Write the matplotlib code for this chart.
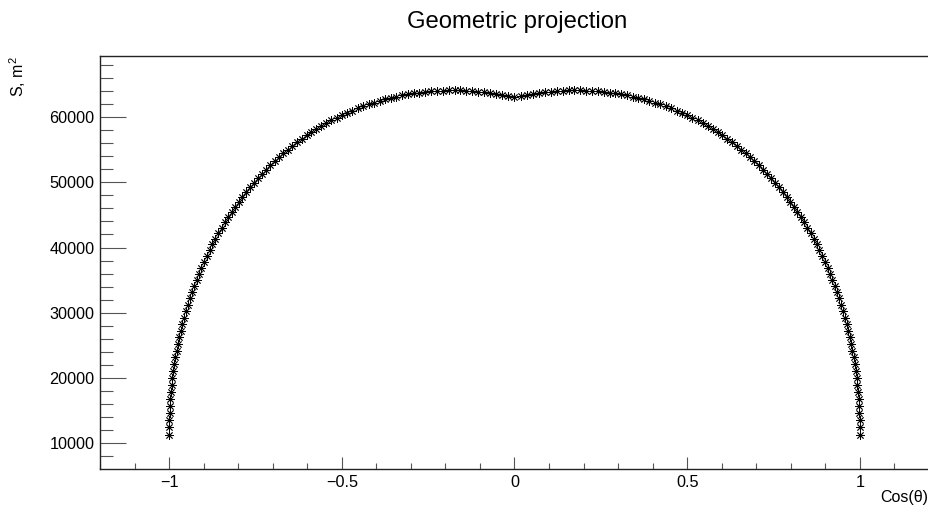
import matplotlib
matplotlib.use("Agg")
import matplotlib.pyplot as plt
from matplotlib.ticker import MultipleLocator

plt.rcParams['font.family'] = ['Liberation Sans', 'DejaVu Sans']
plt.rcParams['mathtext.fontset'] = 'custom'
plt.rcParams['mathtext.rm'] = 'Liberation Sans'
plt.rcParams['mathtext.it'] = 'Liberation Sans:italic'
plt.rcParams['mathtext.default'] = 'regular'

title = "Geometric projection"
xlabel = "Cos(θ)"
ylabel = "S, m$^{2}$"

cos_theta = [
    -1.0000, -0.9998, -0.9994, -0.9986, -0.9976, -0.9962, -0.9945, -0.9925, -0.9903, -0.9877,
    -0.9848, -0.9816, -0.9781, -0.9744, -0.9703, -0.9659, -0.9613, -0.9563, -0.9511, -0.9455,
    -0.9397, -0.9336, -0.9272, -0.9205, -0.9135, -0.9063, -0.8988, -0.8910, -0.8829, -0.8746,
    -0.8660, -0.8572, -0.8480, -0.8387, -0.8290, -0.8192, -0.8090, -0.7986, -0.7880, -0.7771,
    -0.7660, -0.7547, -0.7431, -0.7314, -0.7193, -0.7071, -0.6947, -0.6820, -0.6691, -0.6561,
    -0.6428, -0.6293, -0.6157, -0.6018, -0.5878, -0.5736, -0.5592, -0.5446, -0.5299, -0.5150,
    -0.5000, -0.4848, -0.4695, -0.4540, -0.4384, -0.4226, -0.4067, -0.3907, -0.3746, -0.3584,
    -0.3420, -0.3256, -0.3090, -0.2924, -0.2756, -0.2588, -0.2419, -0.2250, -0.2079, -0.1908,
    -0.1736, -0.1564, -0.1392, -0.1219, -0.1045, -0.0872, -0.0698, -0.0523, -0.0349, -0.0175,
    0.0000,
    0.0175, 0.0349, 0.0523, 0.0698, 0.0872, 0.1045, 0.1219, 0.1392, 0.1564, 0.1736,
    0.1908, 0.2079, 0.2250, 0.2419, 0.2588, 0.2756, 0.2924, 0.3090, 0.3256, 0.3420,
    0.3584, 0.3746, 0.3907, 0.4067, 0.4226, 0.4384, 0.4540, 0.4695, 0.4848, 0.5000,
    0.5150, 0.5299, 0.5446, 0.5592, 0.5736, 0.5878, 0.6018, 0.6157, 0.6293, 0.6428,
    0.6561, 0.6691, 0.6820, 0.6947, 0.7071, 0.7193, 0.7314, 0.7431, 0.7547, 0.7660,
    0.7771, 0.7880, 0.7986, 0.8090, 0.8192, 0.8290, 0.8387, 0.8480, 0.8572, 0.8660,
    0.8746, 0.8829, 0.8910, 0.8988, 0.9063, 0.9135, 0.9205, 0.9272, 0.9336, 0.9397,
    0.9455, 0.9511, 0.9563, 0.9613, 0.9659, 0.9703, 0.9744, 0.9781, 0.9816, 0.9848,
    0.9877, 0.9903, 0.9925, 0.9945, 0.9962, 0.9976, 0.9986, 0.9994, 0.9998, 1.0000,
]

area = [
    11300, 12402, 13495, 14584, 15677, 16759, 17832, 18907, 19974, 21030,
    22082, 23131, 24171, 25209, 26228, 27245, 28253, 29256, 30245, 31229,
    32199, 33165, 34114, 35055, 35986, 36907, 37819, 38715, 39602, 40474,
    41336, 42183, 43019, 43841, 44654, 45451, 46232, 46998, 47755, 48490,
    49217, 49928, 50617, 51299, 51964, 52608, 53238, 53858, 54451, 55036,
    55599, 56146, 56680, 57192, 57690, 58174, 58629, 59076, 59497, 59909,
    60295, 60665, 61016, 61352, 61668, 61963, 62238, 62499, 62739, 62960,
    63160, 63340, 63506, 63647, 63772, 63872, 63959, 64028, 64067, 64095,
    64103, 64091, 64061, 64004, 63934, 63845, 63738, 63603, 63456, 63285,
    63100,
    63285, 63456, 63603, 63738, 63845, 63934, 64004, 64061, 64091, 64103,
    64095, 64067, 64028, 63959, 63872, 63772, 63647, 63506, 63340, 63160,
    62960, 62739, 62499, 62238, 61963, 61668, 61352, 61016, 60665, 60295,
    59909, 59497, 59076, 58629, 58174, 57690, 57192, 56680, 56146, 55599,
    55036, 54451, 53858, 53238, 52608, 51964, 51299, 50617, 49928, 49217,
    48490, 47755, 46998, 46232, 45451, 44654, 43841, 43019, 42183, 41336,
    40474, 39602, 38715, 37819, 36907, 35986, 35055, 34114, 33165, 32199,
    31229, 30245, 29256, 28253, 27245, 26228, 25209, 24171, 23131, 22082,
    21030, 19974, 18907, 17832, 16759, 15677, 14584, 13495, 12402, 11300,
]

W, H = 929, 505
fig = plt.figure(figsize=(W / 100, H / 100), dpi=100)
ax = fig.add_axes([100 / W, 36 / H, 829 / W, 413 / H])

ax.plot(cos_theta, area, linestyle='none', marker=(8, 2, 0), markersize=6,
        markeredgewidth=0.6, color='black')

ax.set_xlim(-1.2, 1.2)
ymin, ymax = min(area), max(area)
ax.set_ylim(ymin - 0.1 * (ymax - ymin), ymax + 0.1 * (ymax - ymin))

ax.xaxis.set_major_locator(MultipleLocator(0.5))
ax.xaxis.set_minor_locator(MultipleLocator(0.1))
ax.yaxis.set_major_locator(MultipleLocator(10000))
ax.yaxis.set_minor_locator(MultipleLocator(2000))
ax.xaxis.set_major_formatter(plt.FuncFormatter(lambda v, p: ("%g" % v).replace('-', '\u2212')))
ax.yaxis.set_major_formatter(plt.FuncFormatter(lambda v, p: "%d" % v))

ax.tick_params(axis='x', which='major', direction='in', length=9, width=0.8, labelsize=11.7, pad=4, color='#555555')
ax.tick_params(axis='x', which='minor', direction='in', length=4.5, width=0.8, color='#555555')
ax.tick_params(axis='y', which='major', direction='in', length=18.5, width=0.8, labelsize=11.7, pad=4, color='#555555')
ax.tick_params(axis='y', which='minor', direction='in', length=9.3, width=0.8, color='#555555')

ax.spines['right'].set_visible(False)
for s in ['left', 'bottom', 'top']:
    ax.spines[s].set_linewidth(1.0)
    ax.spines[s].set_color('#222222')

fig.text(517 / W, 1 - 28 / H, title, ha='center', va='baseline', fontsize=17.2)
fig.text(18 / W, 1 - 56 / H, ylabel, ha='center', va='top', rotation=90, fontsize=11.5)
fig.text(928 / W, 1 - 502 / H, xlabel, ha='right', va='baseline', fontsize=11.5)

fig.savefig("out.png", dpi=100)
